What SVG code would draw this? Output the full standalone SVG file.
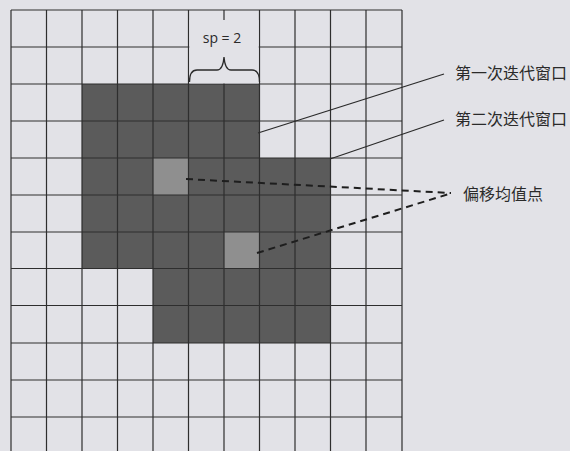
<svg xmlns="http://www.w3.org/2000/svg" width="570" height="451" viewBox="0 0 570 451">
  <style>
    .grid line { stroke: #2e2e2e; stroke-width: 1.2; }
    .dark { fill: #5b5b5b; }
    .mean { fill: #8f8f8f; }
    .leader { stroke: #2a2a2a; stroke-width: 1.3; fill: none; }
    .dash { stroke: #1e1e1e; stroke-width: 2; stroke-dasharray: 7 5; fill: none; }
    .cjk { font-family: "Noto Sans CJK SC", "Noto Sans", sans-serif; font-size: 16px; fill: #2a2a2a; }
    .lbl { font-family: "Open Sans", "Liberation Sans", sans-serif; font-size: 14px; fill: #2a2a2a; }
  </style>
  <rect x="0" y="0" width="570" height="451" fill="#e2e2e7"/>

  <g id="window1">
    <rect class="dark" x="82" y="84" width="177.5" height="184.5"/>
  </g>
  <g id="window2">
    <rect class="dark" x="153" y="158" width="177.5" height="185"/>
  </g>
  <g id="mean-points">
    <rect class="mean" x="153" y="158" width="35.5" height="37"/>
    <rect class="mean" x="224" y="232" width="35.5" height="36.5"/>
  </g>

  <g id="grid" class="grid">
    <line x1="11" y1="10" x2="11" y2="451"/>
    <line x1="46.5" y1="10" x2="46.5" y2="451"/>
    <line x1="82" y1="10" x2="82" y2="451"/>
    <line x1="117.5" y1="10" x2="117.5" y2="451"/>
    <line x1="153" y1="10" x2="153" y2="451"/>
    <line x1="188.5" y1="10" x2="188.5" y2="451"/>
    <line x1="224" y1="10" x2="224" y2="451"/>
    <line x1="259.5" y1="10" x2="259.5" y2="451"/>
    <line x1="295" y1="10" x2="295" y2="451"/>
    <line x1="330.5" y1="10" x2="330.5" y2="451"/>
    <line x1="366" y1="10" x2="366" y2="451"/>
    <line x1="402" y1="10" x2="402" y2="451"/>
    <line x1="11" y1="10" x2="402" y2="10"/>
    <line x1="11" y1="47" x2="402" y2="47"/>
    <line x1="11" y1="84" x2="402" y2="84"/>
    <line x1="11" y1="121" x2="402" y2="121"/>
    <line x1="11" y1="158" x2="402" y2="158"/>
    <line x1="11" y1="195" x2="402" y2="195"/>
    <line x1="11" y1="232" x2="402" y2="232"/>
    <line x1="11" y1="268.5" x2="402" y2="268.5"/>
    <line x1="11" y1="305.5" x2="402" y2="305.5"/>
    <line x1="11" y1="343" x2="402" y2="343"/>
    <line x1="11" y1="380" x2="402" y2="380"/>
    <line x1="11" y1="417" x2="402" y2="417"/>
  </g>

  <g id="sp-label">
    <rect x="189.3" y="20" width="69.4" height="63.4" fill="#e2e2e7"/>
    <path class="leader" d="M189.5,82 Q189.5,70 197,70 L217,70 Q223,70 224,57 Q225,70 231,70 L252,70 Q259.5,70 259.5,82"/>
    <text class="lbl" x="222" y="43" text-anchor="middle">sp = 2</text>
  </g>

  <g id="connectors">
    <line class="leader" x1="258" y1="133" x2="444" y2="74"/>
    <line class="leader" x1="330" y1="159" x2="444" y2="120"/>
    <line class="dash" x1="186" y1="179" x2="451" y2="193"/>
    <line class="dash" x1="257" y1="253" x2="449" y2="194"/>
  </g>

  <g id="label-first">
    <text class="cjk" x="455" y="79">第一次迭代窗口</text>
  </g>
  <g id="label-second">
    <text class="cjk" x="455" y="125">第二次迭代窗口</text>
  </g>
  <g id="label-mean">
    <text class="cjk" x="463" y="200">偏移均值点</text>
  </g>
</svg>
